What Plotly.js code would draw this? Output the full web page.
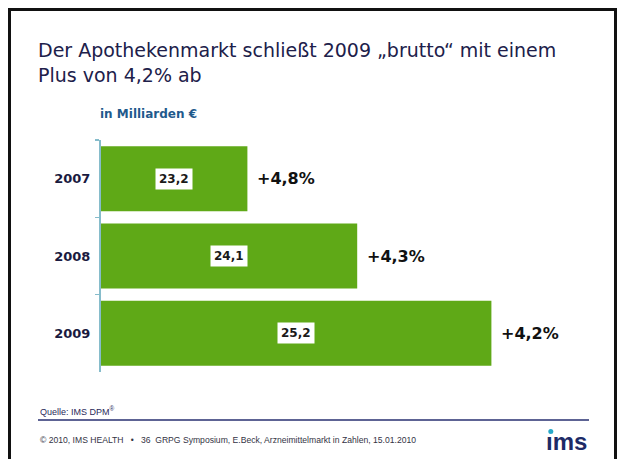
<!DOCTYPE html>
<html>
<head>
<meta charset="utf-8">
<script src="https://cdn.plot.ly/plotly-3.0.1.min.js"></script>
<style>
  html, body { margin: 0; padding: 0; background: #ffffff; }
  #chart { width: 618px; height: 459px; }
</style>
</head>
<body>
<div id="chart"></div>
<script>
// ---- data ----
var years = ['2007', '2008', '2009'];
var values = [23.2, 24.1, 25.2];          // Mrd. €
var growth = [4.8, 4.3, 4.2];             // % Wachstum
var titleText = 'Der Apothekenmarkt schließt 2009 „brutto“ mit einem<br>Plus von 4,2% ab';
var unitText = 'in Milliarden €';
var sourceText = 'Quelle: IMS DPM<sup>®</sup>';
var footerText = '© 2010, IMS HEALTH   •   36  GRPG Symposium, E.Beck, Arzneimittelmarkt in Zahlen, 15.01.2010';

// ---- layout helpers ----
var W = 618, H = 459;
var M = { l: 101, r: 29, t: 140, b: 87 };
var PW = W - M.l - M.r, PH = H - M.t - M.b;
function px(x) { return (x - M.l) / PW; }
function py(y) { return (H - M.b - y) / PH; }
var xMin = 22, xMax = 26;

function fmt(v) { return v.toFixed(1).replace('.', ','); }

var FONT = 'DejaVu Sans, Verdana, sans-serif';
var green = '#5fa917';
var axisCol = '#86bccb';

var trace = {
  type: 'bar',
  orientation: 'h',
  y: years,
  x: values,
  marker: { color: green, line: { width: 0 } },
  hoverinfo: 'none'
};

var annotations = [];
years.forEach(function (yr, i) {
  annotations.push({
    x: (xMin + values[i]) / 2, y: i, xref: 'x', yref: 'y',
    text: '<b>' + fmt(values[i]) + '</b>', showarrow: false,
    font: { family: FONT, size: 12, color: '#1a1a1a' },
    bgcolor: '#ffffff', borderpad: 3
  });
  annotations.push({
    x: values[i], y: i, xref: 'x', yref: 'y',
    text: '<b>+' + fmt(growth[i]) + '%</b>', showarrow: false,
    xanchor: 'left', xshift: 8,
    font: { family: FONT, size: 16, color: '#111111' }
  });
});

annotations.push({
  xref: 'paper', yref: 'paper', x: px(98), y: py(114),
  xanchor: 'left', yanchor: 'middle', showarrow: false,
  text: '<b>' + unitText + '</b>',
  font: { family: FONT, size: 12, color: '#1f5a8c' }
});
annotations.push({
  xref: 'paper', yref: 'paper', x: px(38), y: py(411),
  xanchor: 'left', yanchor: 'middle', showarrow: false,
  text: sourceText,
  font: { family: 'Liberation Sans, Arial, sans-serif', size: 9, color: '#2a2a5a' }
});
annotations.push({
  xref: 'paper', yref: 'paper', x: px(38), y: py(440),
  xanchor: 'left', yanchor: 'middle', showarrow: false,
  text: footerText,
  font: { family: 'Liberation Sans, Arial, sans-serif', size: 8.6, color: '#333344' }
});
annotations.push({
  xref: 'paper', yref: 'paper', x: px(589), y: py(441),
  xanchor: 'right', yanchor: 'middle', showarrow: false,
  text: '<b>ıms</b>',
  font: { family: 'Liberation Sans, Arial, sans-serif', size: 24, color: '#1d2a66' }
});

var shapes = [
  { type: 'line', xref: 'paper', yref: 'paper', x0: px(9.5), x1: px(9.5), y0: py(9.5), y1: py(459), line: { color: '#111111', width: 3 } },
  { type: 'line', xref: 'paper', yref: 'paper', x0: px(8), x1: px(617), y0: py(9.5), y1: py(9.5), line: { color: '#111111', width: 3 } },
  { type: 'line', xref: 'paper', yref: 'paper', x0: px(615.5), x1: px(615.5), y0: py(9.5), y1: py(459), line: { color: '#111111', width: 3 } },
  { type: 'line', xref: 'paper', yref: 'paper', x0: px(38), x1: px(589), y0: py(420), y1: py(420), line: { color: '#5d6394', width: 2 } },
  { type: 'circle', xref: 'paper', yref: 'paper', x0: px(548.3), x1: px(553.3), y0: py(429), y1: py(434), fillcolor: '#27a8c8', line: { width: 0 } }
];

var layout = {
  width: W, height: H,
  margin: M,
  paper_bgcolor: '#ffffff', plot_bgcolor: '#ffffff',
  showlegend: false,
  bargap: 0.16,
  title: {
    text: titleText,
    xref: 'container', yref: 'container',
    x: 38 / W, xanchor: 'left',
    y: 1 - 57 / H, yanchor: 'top',
    font: { family: FONT, size: 19, color: '#20204a' }
  },
  xaxis: { range: [xMin, xMax], visible: false, fixedrange: true },
  yaxis: {
    type: 'category',
    range: [years.length - 0.5, -0.5],
    autorange: false,
    showline: true, linecolor: axisCol, linewidth: 2,
    ticks: 'outside', tickson: 'boundaries', ticklen: 4, tickcolor: axisCol, tickwidth: 1.5,
    ticklabelstandoff: 6,
    showgrid: false, zeroline: false,
    tickfont: { family: FONT, size: 13, color: '#1a1a40', weight: 'bold' },
    fixedrange: true
  },
  annotations: annotations,
  shapes: shapes
};

Plotly.newPlot('chart', [trace], layout, { staticPlot: true, displayModeBar: false });
</script>
</body>
</html>
